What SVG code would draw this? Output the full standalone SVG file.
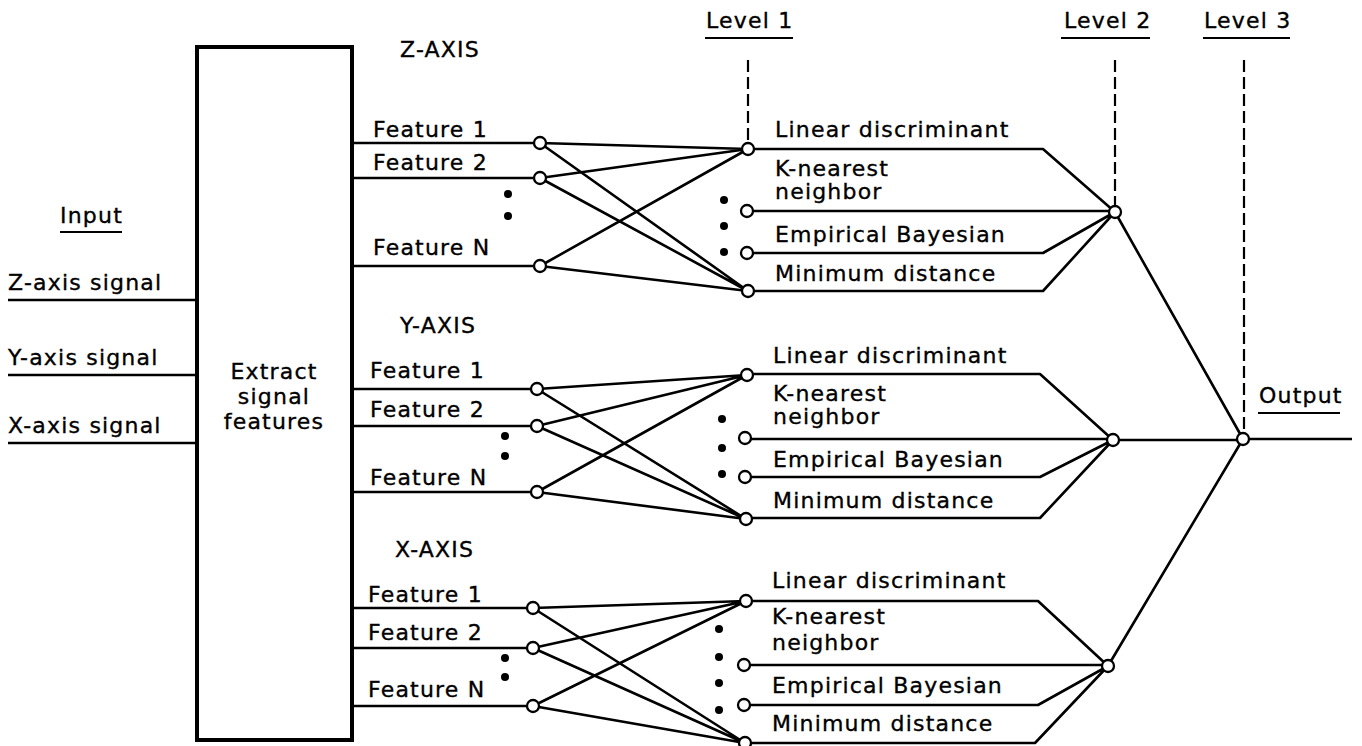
<svg xmlns="http://www.w3.org/2000/svg" width="1362" height="746" viewBox="0 0 1362 746">
<style>
text{font-family:"DejaVu Sans","Liberation Sans",sans-serif;font-size:22px;letter-spacing:1.2px;fill:#000;stroke:#000;stroke-width:0.35}
.ln{stroke:#000;stroke-width:2.6;fill:none;stroke-linejoin:round}
.dash{stroke:#000;stroke-width:2.2;stroke-dasharray:12 5;fill:none}
.ul{stroke:#000;stroke-width:2.2}
.nd{fill:#fff;stroke:#000;stroke-width:2.3}
.dot{fill:#000}
.box{fill:#fff;stroke:#000;stroke-width:4}
.mid{text-anchor:middle}
</style>
<rect width="1362" height="746" fill="#fff"/>

<g id="connectors">
  <!-- inputs -->
  <path class="ln" d="M8 300H197M8 375H197M8 443H197"/>
  <!-- level dashed lines -->
  <path class="dash" d="M748 60V143M1115 60V205M1244 60V432"/>
  <!-- Z features -->
  <path class="ln" d="M352 143H540M352 178H540M352 266H540"/>
  <path class="ln" d="M540 143L748 149M540 143L748 291M540 178L748 149M540 178L748 291M540 266L748 149M540 266L748 291"/>
  <path class="ln" d="M748 149H1043L1115 212M747 211H1115M747 253H1043L1115 212M748 291H1043L1115 212"/>
  <!-- Y features -->
  <path class="ln" d="M352 389H537M352 426H537M352 492H537"/>
  <path class="ln" d="M537 389L747 375M537 389L746 519M537 426L747 375M537 426L746 519M537 492L747 375M537 492L746 519"/>
  <path class="ln" d="M747 374H1040L1113 440M745 439H1113M745 477H1040L1113 440M746 518H1040L1113 440"/>
  <!-- X features -->
  <path class="ln" d="M352 608H533M352 648H533M352 706H533"/>
  <path class="ln" d="M533 608L746 601M533 608L745 743M533 648L746 601M533 648L745 743M533 706L746 601M533 706L745 743"/>
  <path class="ln" d="M746 601H1038L1108 666M744 665H1108M744 705H1038L1108 666M745 743H1035L1108 666"/>
  <!-- level 2 to level 3 and output -->
  <path class="ln" d="M1115 212L1243 439M1113 440H1243M1108 666L1243 439M1243 439H1352"/>
</g>

<g id="extract">
  <rect class="box" x="197" y="47" width="155" height="693"/>
  <text class="mid" x="274" y="379">Extract</text>
  <text class="mid" x="274" y="404">signal</text>
  <text class="mid" x="274" y="429">features</text>
</g>

<g id="input">
  <text x="60" y="223">Input</text>
  <line class="ul" x1="60" y1="232" x2="122" y2="232"/>
  <text x="8" y="290">Z-axis signal</text>
  <text x="8" y="365">Y-axis signal</text>
  <text x="8" y="433">X-axis signal</text>
</g>

<g id="levels">
  <text x="706" y="28">Level 1</text>
  <line class="ul" x1="705" y1="38" x2="793" y2="38"/>
  <text x="1064" y="28">Level 2</text>
  <line class="ul" x1="1061" y1="38" x2="1150" y2="38"/>
  <text x="1204" y="28">Level 3</text>
  <line class="ul" x1="1203" y1="38" x2="1290" y2="38"/>
  <text x="1259" y="403">Output</text>
  <line class="ul" x1="1258" y1="413" x2="1340" y2="413"/>
</g>

<g id="z-axis">
  <text x="400" y="57">Z-AXIS</text>
  <text x="373" y="137">Feature 1</text>
  <text x="373" y="170">Feature 2</text>
  <text x="373" y="255">Feature N</text>
  <circle class="dot" cx="508" cy="194" r="4"/>
  <circle class="dot" cx="508" cy="216" r="4"/>
  <circle class="nd" cx="540" cy="143" r="6"/>
  <circle class="nd" cx="540" cy="178" r="6"/>
  <circle class="nd" cx="540" cy="266" r="6"/>
  <circle class="dot" cx="724" cy="200" r="4"/>
  <circle class="dot" cx="724" cy="226" r="4"/>
  <circle class="dot" cx="724" cy="252" r="4"/>
  <circle class="nd" cx="748" cy="149" r="6"/>
  <circle class="nd" cx="747" cy="211" r="6"/>
  <circle class="nd" cx="747" cy="253" r="6"/>
  <circle class="nd" cx="748" cy="291" r="6"/>
  <text x="775" y="137">Linear discriminant</text>
  <text x="775" y="176">K-nearest</text>
  <text x="775" y="199">neighbor</text>
  <text x="775" y="242">Empirical Bayesian</text>
  <text x="775" y="281">Minimum distance</text>
  <circle class="nd" cx="1115" cy="212" r="6"/>
</g>

<g id="y-axis">
  <text x="400" y="333">Y-AXIS</text>
  <text x="370" y="378">Feature 1</text>
  <text x="370" y="417">Feature 2</text>
  <text x="370" y="485">Feature N</text>
  <circle class="dot" cx="505" cy="436" r="4"/>
  <circle class="dot" cx="505" cy="456" r="4"/>
  <circle class="nd" cx="537" cy="389" r="6"/>
  <circle class="nd" cx="537" cy="426" r="6"/>
  <circle class="nd" cx="537" cy="492" r="6"/>
  <circle class="dot" cx="722" cy="419" r="4"/>
  <circle class="dot" cx="722" cy="448" r="4"/>
  <circle class="dot" cx="722" cy="474" r="4"/>
  <circle class="nd" cx="747" cy="375" r="6"/>
  <circle class="nd" cx="745" cy="438" r="6"/>
  <circle class="nd" cx="745" cy="477" r="6"/>
  <circle class="nd" cx="746" cy="519" r="6"/>
  <text x="773" y="363">Linear discriminant</text>
  <text x="773" y="401">K-nearest</text>
  <text x="773" y="424">neighbor</text>
  <text x="773" y="467">Empirical Bayesian</text>
  <text x="773" y="508">Minimum distance</text>
  <circle class="nd" cx="1113" cy="440" r="6"/>
</g>

<g id="x-axis">
  <text x="395" y="557">X-AXIS</text>
  <text x="368" y="602">Feature 1</text>
  <text x="368" y="640">Feature 2</text>
  <text x="368" y="697">Feature N</text>
  <circle class="dot" cx="505" cy="658" r="4"/>
  <circle class="dot" cx="505" cy="677" r="4"/>
  <circle class="nd" cx="533" cy="608" r="6"/>
  <circle class="nd" cx="533" cy="648" r="6"/>
  <circle class="nd" cx="533" cy="706" r="6"/>
  <circle class="dot" cx="719" cy="629" r="4"/>
  <circle class="dot" cx="719" cy="657" r="4"/>
  <circle class="dot" cx="719" cy="683" r="4"/>
  <circle class="dot" cx="719" cy="710" r="4"/>
  <circle class="nd" cx="746" cy="601" r="6"/>
  <circle class="nd" cx="744" cy="665" r="6"/>
  <circle class="nd" cx="744" cy="705" r="6"/>
  <circle class="nd" cx="745" cy="743" r="6"/>
  <text x="772" y="588">Linear discriminant</text>
  <text x="772" y="624">K-nearest</text>
  <text x="772" y="650">neighbor</text>
  <text x="772" y="693">Empirical Bayesian</text>
  <text x="772" y="731">Minimum distance</text>
  <circle class="nd" cx="1108" cy="666" r="6"/>
</g>

<g id="output-node">
  <circle class="nd" cx="1243" cy="439" r="6"/>
</g>
</svg>
